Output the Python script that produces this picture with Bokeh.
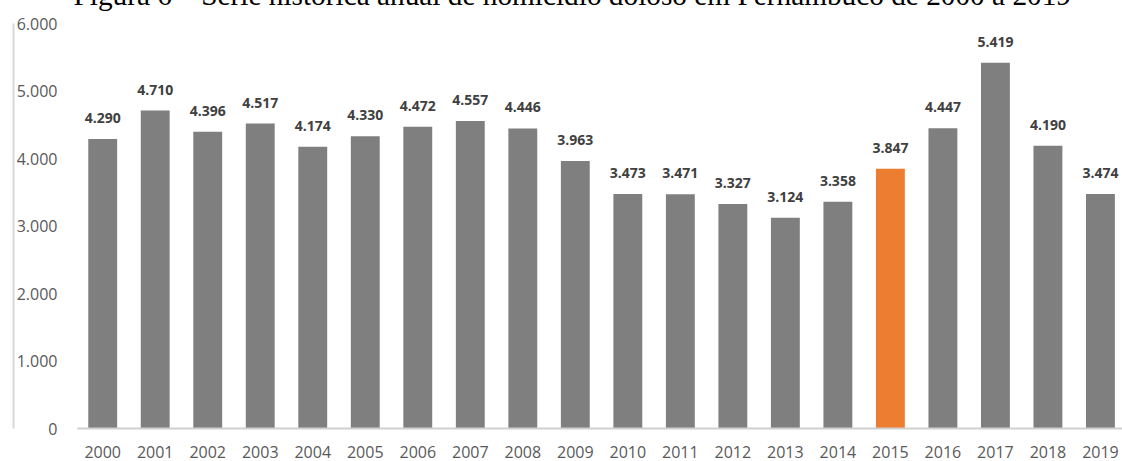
from bokeh.plotting import figure
from bokeh.models import ColumnDataSource, Range1d, FixedTicker, Title, LinearAxis
from bokeh.core.properties import value
from bokeh.embed import file_html
from bokeh.resources import INLINE

# ---- data ----
years = ["2000", "2001", "2002", "2003", "2004", "2005", "2006", "2007", "2008", "2009",
         "2010", "2011", "2012", "2013", "2014", "2015", "2016", "2017", "2018", "2019"]
homicides = [4290, 4710, 4396, 4517, 4174, 4330, 4472, 4557, 4446, 3963,
             3473, 3471, 3327, 3124, 3358, 3847, 4447, 5419, 4190, 3474]
highlight_year = "2015"
y_ticks = [0, 1000, 2000, 3000, 4000, 5000, 6000]
y_tick_labels = ["0", "1.000", "2.000", "3.000", "4.000", "5.000", "6.000"]
title_text = "Figura 6 \u2013 S\u00e9rie hist\u00f3rica anual de homic\u00eddio doloso em Pernambuco de 2000 a 2019"

GRAY = "#7f7f7f"
ORANGE = "#ed7d31"
BORDER = "#d9d9d9"

idx = list(range(len(years)))
colors = [ORANGE if y == highlight_year else GRAY for y in years]
labels = [f"{v:,}".replace(",", ".") for v in homicides]

src = ColumnDataSource(dict(x=idx, top=homicides, color=colors, label=labels))

SHIFT = 57  # the caption's upper part lies above the visible page, as in the reference
W, H = 1122, 461

p = figure(width=W, height=H + SHIFT, output_backend="svg", toolbar_location=None,
           x_range=Range1d(-0.48, 19.42), y_range=Range1d(0, 6000),
           min_border_left=77, min_border_right=0, min_border_top=80, min_border_bottom=33)
p.title = Title(text=title_text, align="left", offset=-4, standoff=25,
                text_font="Liberation Serif", text_font_size="29.3px",
                text_font_style="normal", text_color="#000000")
p.outline_line_color = None
p.grid.visible = False
p.background_fill_color = "white"
p.border_fill_color = "white"
p.styles = {"margin-top": f"-{SHIFT}px"}

p.vbar(x="x", top="top", width=0.55, bottom=0, fill_color="color", line_color=None, source=src)

p.text(x="x", y="top", text="label", source=src, text_align="center", text_baseline="alphabetic",
       y_offset=-21, text_font=value("Open Sans"), text_font_style="bold",
       text_font_size="14px", text_color="#404040")

# x axis
xa = p.xaxis[0]
xa.ticker = FixedTicker(ticks=idx)
xa.major_label_overrides = {i: y for i, y in zip(idx, years)}
xa.axis_line_color = "#d0d0d0"
xa.axis_line_width = 2
xa.major_tick_line_color = None
xa.minor_tick_line_color = None
xa.major_tick_out = 0
xa.major_tick_in = 0
xa.major_label_standoff = 17
xa.major_label_text_font = "Open Sans"
xa.major_label_text_font_size = "16px"
xa.major_label_text_color = "#595959"

# y axis
ya = p.yaxis[0]
ya.ticker = FixedTicker(ticks=y_ticks)
ya.major_label_overrides = {t: l for t, l in zip(y_ticks, y_tick_labels)}
ya.axis_line_color = None
ya.major_tick_line_color = None
ya.minor_tick_line_color = None
ya.major_tick_out = 0
ya.major_tick_in = 0
ya.major_label_standoff = 20
ya.major_label_text_font = "Open Sans"
ya.major_label_text_font_size = "16px"
ya.major_label_text_color = "#595959"

# chart-area border on the left: a label-less outer axis whose rule sits left of the tick labels
edge = LinearAxis(ticker=FixedTicker(ticks=[]), axis_line_color=BORDER, axis_line_width=2,
                  major_tick_line_color=None, minor_tick_line_color=None,
                  major_tick_out=0, major_tick_in=0, minor_tick_out=0, minor_tick_in=0,
                  major_label_standoff=0)
p.add_layout(edge, "left")

open("out.html", "w").write(file_html(p, INLINE))
